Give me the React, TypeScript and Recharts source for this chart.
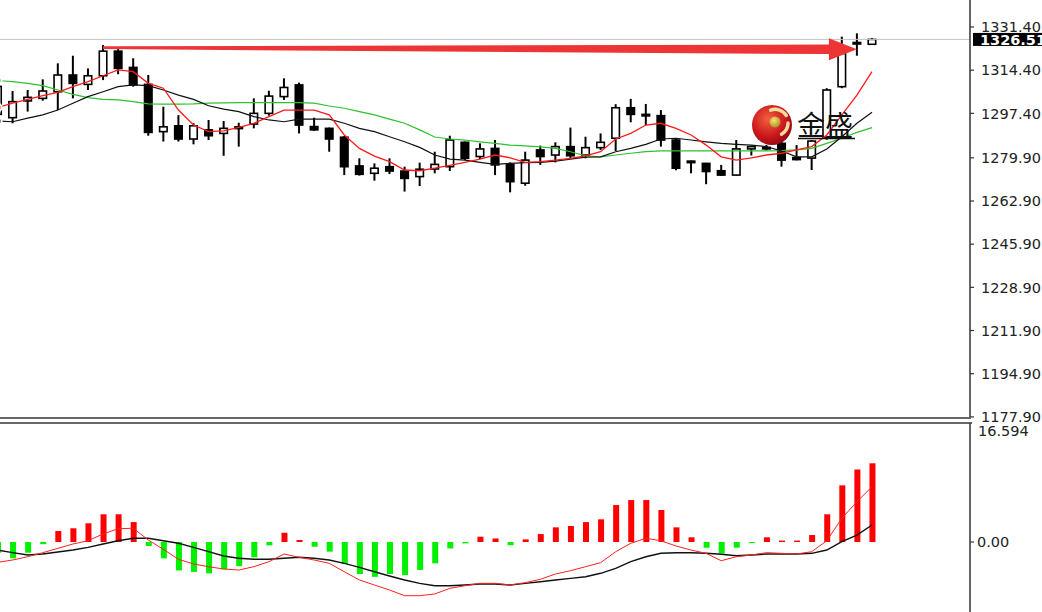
import { ComposedChart, Bar, Line, XAxis, YAxis, ReferenceLine, Cell } from 'recharts';

// candles (price units)
const opens = [
  1297.0, 1295.7, 1302.3, 1303.3, 1305.9, 1312.5, 1308.8, 1312.2, 1321.9, 1315.5,
  1308.8, 1290.2, 1292.5, 1287.3, 1290.9, 1289.5, 1292.1, 1293.2, 1297.4, 1304.0,
  1308.6, 1292.2, 1291.5, 1288.0, 1276.7, 1273.8, 1276.4, 1274.7, 1272.5, 1275.5,
  1276.4, 1286.0, 1280.4, 1283.6, 1277.3, 1269.9, 1283.0, 1281.0, 1284.3, 1281.0,
  1283.9, 1287.6, 1299.6, 1297.0, 1296.5, 1286.9, 1278.6, 1277.7, 1274.8, 1273.1,
  1283.4, 1284.0, 1285.6, 1280.0, 1279.8, 1288.0, 1307.9, 1325.3, 1324.6,
];
const highs = [
  1310.0, 1306.2, 1306.6, 1310.8, 1317.1, 1320.1, 1315.1, 1324.3, 1322.7, 1319.1,
  1312.5, 1300.0, 1296.7, 1293.5, 1294.8, 1294.4, 1293.7, 1303.3, 1306.3, 1311.2,
  1309.5, 1295.7, 1291.8, 1288.5, 1279.7, 1277.7, 1279.7, 1276.4, 1278.0, 1282.3,
  1288.6, 1286.3, 1285.6, 1286.9, 1278.1, 1282.3, 1284.7, 1286.0, 1291.8, 1288.2,
  1289.5, 1301.0, 1303.1, 1301.1, 1298.7, 1287.5, 1278.8, 1277.9, 1277.1, 1286.9,
  1284.7, 1285.0, 1287.6, 1284.9, 1286.9, 1307.3, 1327.6, 1328.9, 1327.0,
];
const lows = [
  1295.0, 1293.5, 1298.1, 1302.4, 1298.7, 1303.3, 1306.6, 1310.5, 1312.8, 1307.9,
  1288.6, 1286.3, 1286.3, 1285.2, 1286.9, 1280.7, 1284.3, 1291.5, 1296.5, 1302.7,
  1289.5, 1290.5, 1282.3, 1273.1, 1272.9, 1270.9, 1273.5, 1266.6, 1268.8, 1273.8,
  1274.7, 1279.0, 1279.4, 1273.1, 1266.3, 1268.9, 1277.1, 1278.1, 1279.7, 1279.7,
  1283.0, 1282.6, 1293.9, 1292.8, 1284.3, 1275.0, 1273.8, 1269.5, 1272.8, 1272.9,
  1280.8, 1282.8, 1276.4, 1278.9, 1275.1, 1287.0, 1307.3, 1320.1, 1324.4,
];
const closes = [
  1308.0, 1302.0, 1303.7, 1306.2, 1312.5, 1309.2, 1312.2, 1321.9, 1315.1, 1308.6,
  1289.9, 1292.1, 1287.3, 1292.5, 1288.6, 1291.5, 1291.4, 1297.4, 1304.2, 1307.6,
  1292.8, 1290.9, 1287.3, 1276.4, 1273.4, 1275.8, 1274.7, 1271.8, 1275.4, 1277.3,
  1286.9, 1279.7, 1283.4, 1277.1, 1270.5, 1279.0, 1280.4, 1284.3, 1280.7, 1283.9,
  1286.0, 1299.6, 1297.0, 1296.4, 1286.9, 1275.8, 1278.0, 1274.5, 1273.1, 1283.4,
  1284.3, 1283.6, 1279.0, 1279.2, 1286.5, 1306.6, 1321.0, 1324.8, 1326.51,
];

// moving averages (red, black, green)
const maFast = [
  1299.7, 1301.4, 1302.9, 1304.4, 1305.7, 1307.9, 1309.9, 1312.2, 1314.5, 1313.8,
  1309.2, 1307.3, 1298.7, 1292.8, 1290.2, 1290.5, 1291.9, 1293.5, 1296.1, 1298.7,
  1298.7, 1298.7, 1296.8, 1288.9, 1283.6, 1280.6, 1278.4, 1275.1, 1274.8, 1275.8,
  1276.9, 1278.1, 1279.4, 1281.0, 1279.9, 1278.1, 1278.4, 1279.0, 1279.7, 1280.7,
  1282.3, 1287.3, 1289.5, 1292.8, 1293.5, 1291.5, 1288.9, 1284.9, 1280.3, 1279.0,
  1279.9, 1281.0, 1281.7, 1283.0, 1284.3, 1288.9, 1296.8, 1304.6, 1313.8,
];
const maMid = [
  1294.4, 1294.1, 1295.5, 1296.8, 1298.7, 1301.4, 1304.0, 1305.9, 1307.9, 1308.6,
  1308.3, 1306.6, 1304.6, 1302.9, 1300.4, 1299.1, 1298.1, 1296.1, 1294.8, 1294.1,
  1295.1, 1295.1, 1295.1, 1293.5, 1291.5, 1290.2, 1288.2, 1286.2, 1284.0, 1281.0,
  1279.4, 1279.0, 1278.1, 1277.3, 1277.7, 1278.0, 1278.1, 1278.6, 1279.4, 1280.2,
  1280.3, 1282.3, 1283.6, 1285.2, 1287.3, 1287.6, 1286.9, 1286.2, 1285.6, 1285.2,
  1284.9, 1284.3, 1282.6, 1280.3, 1280.3, 1283.4, 1288.2, 1293.5, 1297.8,
];
const maSlow = [
  1310.3, 1309.9, 1309.2, 1308.3, 1306.6, 1304.9, 1303.6, 1302.9, 1302.7, 1302.0,
  1301.1, 1301.0, 1301.0, 1301.1, 1301.4, 1301.5, 1301.6, 1301.6, 1301.6, 1301.6,
  1301.6, 1301.4, 1300.3, 1299.4, 1298.1, 1296.8, 1295.1, 1293.5, 1290.9, 1288.1,
  1287.3, 1286.9, 1286.2, 1285.6, 1284.9, 1284.6, 1284.2, 1283.6, 1282.3, 1280.7,
  1280.3, 1281.0, 1281.7, 1282.3, 1282.6, 1282.6, 1282.6, 1282.6, 1282.6, 1282.6,
  1282.6, 1282.6, 1282.7, 1283.0, 1283.6, 1285.6, 1287.6, 1289.9, 1291.8,
];

// MACD panel
const macdHist = [
  -1.5, -2.3, -1.5, -0.3, 1.55, 1.93, 2.63, 3.9, 3.9, 2.8,
  -0.56, -2.3, -4.0, -4.2, -4.4, -3.85, -3.4, -2.15, -0.47, 1.3,
  0.28, -0.66, -1.36, -3.1, -4.5, -4.9, -4.5, -4.65, -3.94, -3.0,
  -0.9, -0.2, 0.75, 0.5, -0.45, 0.37, 1.12, 2.06, 2.25, 2.8,
  3.19, 5.2, 5.9, 5.9, 4.5, 2.06, 0.66, -0.8, -1.6, -0.8,
  -0.15, 0.66, 0.2, 0.2, 0.98, 3.9, 7.97, 10.2, 11.07,
];
const macdDif = [
  -2.86, -2.53, -2.07, -1.5, -0.89, -0.28, 0.18, 1.13, 1.87, 1.93,
  0.28, -1.03, -2.43, -3.09, -3.47, -3.8, -3.94, -3.47, -2.77, -1.69,
  -2.15, -2.53, -3.0, -4.18, -5.34, -6.05, -6.75, -7.55, -7.55, -7.31,
  -6.51, -6.15, -5.81, -5.81, -6.05, -5.72, -5.25, -4.5, -4.04, -3.47,
  -2.91, -1.36, -0.18, 0.52, 0.18, -0.56, -1.13, -1.59, -2.63, -2.07,
  -1.83, -1.5, -1.59, -1.69, -1.36, 0.18, 3.33, 5.67, 7.78,
];
const macdDea = [
  -1.13, -1.5, -1.83, -1.69, -1.41, -1.13, -0.75, -0.28, 0.18, 0.52,
  0.52, 0.18, -0.18, -0.75, -1.36, -1.97, -2.29, -2.43, -2.43, -2.29,
  -2.15, -2.29, -2.53, -3.0, -3.56, -4.18, -4.78, -5.34, -5.81, -6.15,
  -6.15, -6.05, -5.91, -5.91, -6.05, -5.81, -5.58, -5.34, -5.11, -4.88,
  -4.4, -3.7, -2.77, -2.07, -1.59, -1.5, -1.5, -1.59, -1.73, -1.93,
  -1.83, -1.69, -1.69, -1.69, -1.59, -1.13, 0.04, 0.98, 2.39,
];

const priceTicks = [1331.4, 1326.51, 1314.4, 1297.4, 1279.9, 1262.9, 1245.9, 1228.9, 1211.9, 1194.9, 1177.9];
const bidPrice = 1326.51;
const macdTicks = [16.594, 0];
const slots = 65;

const priceRows = Array.from({ length: slots }, (_, i) =>
  i < opens.length
    ? {
        i,
        open: opens[i],
        high: highs[i],
        low: lows[i],
        close: closes[i],
        range: [lows[i], highs[i]],
        fast: maFast[i],
        mid: maMid[i],
        slow: maSlow[i],
      }
    : { i }
);

const macdRows = Array.from({ length: slots }, (_, i) =>
  i < macdHist.length ? { i, hist: macdHist[i], dif: macdDif[i], dea: macdDea[i] } : { i }
);

const axisFont = '"DejaVu Sans", sans-serif';

function Candle(props: any) {
  const { x, y, width, height, payload } = props;
  if (!payload || payload.open == null) return null;
  const top = Math.min(y, y + height);
  const h = Math.abs(height);
  const span = payload.high - payload.low;
  const k = span > 0 ? h / span : 0;
  const cx = x + width / 2;
  const yO = top + (payload.high - payload.open) * k;
  const yC = top + (payload.high - payload.close) * k;
  const up = payload.close >= payload.open;
  const bodyTop = Math.min(yO, yC);
  const bodyH = Math.max(Math.abs(yC - yO), 1.5);
  return (
    <g>
      <line x1={cx} x2={cx} y1={top} y2={top + h} stroke="#000" strokeWidth={2} />
      <rect
        x={x + 0.75}
        y={bodyTop}
        width={width - 1.5}
        height={bodyH}
        fill={up ? '#fff' : '#000'}
        stroke="#000"
        strokeWidth={1.6}
      />
    </g>
  );
}

function PriceTick(props: any) {
  const { x, y, payload } = props;
  const v = payload.value;
  if (v === bidPrice) {
    return (
      <g>
        <rect x={x - 8} y={y - 6.5} width={80} height={13} fill="#000" />
        <text x={x - 1} y={y} dy="0.36em" fill="#fff" fontSize={14.5} fontFamily={axisFont} fontWeight="bold">
          {v.toFixed(2)}
        </text>
      </g>
    );
  }
  return (
    <g>
      <line x1={x - 11} x2={x - 7} y1={y} y2={y} stroke="#333" strokeWidth={1.2} />
      <text x={x} y={y} dy="0.36em" fill="#222" fontSize={14.5} fontFamily={axisFont}>
        {v.toFixed(2)}
      </text>
    </g>
  );
}

function MacdTick(props: any) {
  const { x, y, payload } = props;
  const v = payload.value;
  if (v === 0) {
    return (
      <g>
        <line x1={x - 11} x2={x - 7} y1={y} y2={y} stroke="#333" strokeWidth={1.2} />
        <text x={x - 4} y={y} dy="0.36em" fill="#222" fontSize={14.5} fontFamily={axisFont}>
          0.00
        </text>
      </g>
    );
  }
  return (
    <text x={x - 3} y={y + 7} dy="0.36em" fill="#222" fontSize={14.5} fontFamily={axisFont}>
      {String(v)}
    </text>
  );
}

function arrowShape(p: any) {
  const { x1, y1, x2, y2 } = p;
  if (x1 == null || x2 == null) return <g />;
  const hx = x2 - 28;
  const t = (hx - x1) / (x2 - x1);
  const hy = y1 + (y2 - y1) * t;
  const pts = [
    [x1, y1 - 1.4],
    [hx, hy - 4.8],
    [hx, hy - 11],
    [x2, y2],
    [hx, hy + 11],
    [hx, hy + 4.8],
    [x1, y1 + 1.4],
  ];
  return <polygon points={pts.map((q) => q.join(',')).join(' ')} fill="#ee3535" />;
}

export default function App() {
  return (
    <div
      style={{
        position: 'absolute',
        left: 0,
        top: 0,
        width: 1042,
        height: 612,
        overflow: 'hidden',
        background: '#fff',
      }}
    >
      <div style={{ position: 'absolute', left: -10, top: 0 }}>
        <ComposedChart width={1052} height={432} data={priceRows} margin={{ top: 0, right: 0, bottom: 14, left: 0 }}>
          <XAxis dataKey="i" type="category" hide />
          <YAxis
            orientation="right"
            type="number"
            width={72}
            domain={[1177.46, 1342.03]}
            allowDataOverflow
            ticks={priceTicks}
            interval={0}
            tick={<PriceTick />}
            tickLine={false}
            tickSize={4}
            tickMargin={7}
            axisLine={{ stroke: '#333', strokeWidth: 1.5 }}
          />
          <ReferenceLine y={bidPrice} stroke="#c4c4c4" strokeWidth={1} />
          <Bar dataKey="range" barSize={9} shape={<Candle />} isAnimationActive={false} />
          <Line dataKey="slow" stroke="#2fc02f" strokeWidth={1.2} dot={false} type="linear" isAnimationActive={false} />
          <Line dataKey="mid" stroke="#111" strokeWidth={1.2} dot={false} type="linear" isAnimationActive={false} />
          <Line dataKey="fast" stroke="#ff1a1a" strokeWidth={1.3} dot={false} type="linear" isAnimationActive={false} />
          <ReferenceLine
            segment={[
              { x: 7, y: 1323.25 },
              { x: 57, y: 1322.6 },
            ]}
            shape={arrowShape}
          />
        </ComposedChart>
      </div>

      <div style={{ position: 'absolute', left: 0, top: 417, width: 971, height: 2, background: '#666' }} />
      <div style={{ position: 'absolute', left: 0, top: 422, width: 972, height: 2, background: '#666' }} />

      <div style={{ position: 'absolute', left: -10, top: 423 }}>
        <ComposedChart width={1052} height={200} data={macdRows} margin={{ top: 0, right: 0, bottom: 0, left: 0 }}>
          <XAxis dataKey="i" type="category" hide />
          <YAxis
            orientation="right"
            type="number"
            width={72}
            domain={[-11.39, 16.737]}
            allowDataOverflow
            ticks={macdTicks}
            interval={0}
            tick={<MacdTick />}
            tickLine={false}
            tickSize={4}
            tickMargin={7}
            axisLine={{ stroke: '#333', strokeWidth: 1.5 }}
          />
          <Bar dataKey="hist" barSize={6} isAnimationActive={false}>
            {macdRows.map((r: any, idx) => (
              <Cell key={idx} fill={r.hist >= 0 ? '#ff0000' : '#00f000'} />
            ))}
          </Bar>
          <Line dataKey="dea" stroke="#111" strokeWidth={1.4} dot={false} type="linear" isAnimationActive={false} />
          <Line dataKey="dif" stroke="#ff2020" strokeWidth={1} dot={false} type="linear" isAnimationActive={false} />
        </ComposedChart>
      </div>

      <svg style={{ position: 'absolute', left: 745, top: 100 }} width={120} height={50}>
        <defs>
          <radialGradient id="logoRed" cx="40%" cy="35%" r="70%">
            <stop offset="0%" stopColor="#f2603c" />
            <stop offset="65%" stopColor="#c9141c" />
            <stop offset="100%" stopColor="#8f0a10" />
          </radialGradient>
          <radialGradient id="logoGold" cx="40%" cy="35%" r="70%">
            <stop offset="0%" stopColor="#f6e27a" />
            <stop offset="100%" stopColor="#b08a1c" />
          </radialGradient>
        </defs>
        <circle cx={27} cy={25} r={20} fill="url(#logoRed)" />
        <path d="M 25.7 10.2 A 13 13 0 0 1 41.3 15.5" fill="none" stroke="#f3dca0" strokeWidth={3.5} strokeLinecap="round" />
        <path d="M 43 23 A 13 13 0 0 1 36.5 34.2" fill="none" stroke="#f3dca0" strokeWidth={3.5} strokeLinecap="round" />
        <circle cx={30} cy={22} r={5.5} fill="url(#logoGold)" />
        <text x={52} y={36} fontSize={28} fontFamily='"Noto Sans CJK SC", sans-serif' fill="#111">
          金盛
        </text>
        <line x1={53} x2={110} y1={38.5} y2={38.5} stroke="#111" strokeWidth={1.5} />
      </svg>
    </div>
  );
}
